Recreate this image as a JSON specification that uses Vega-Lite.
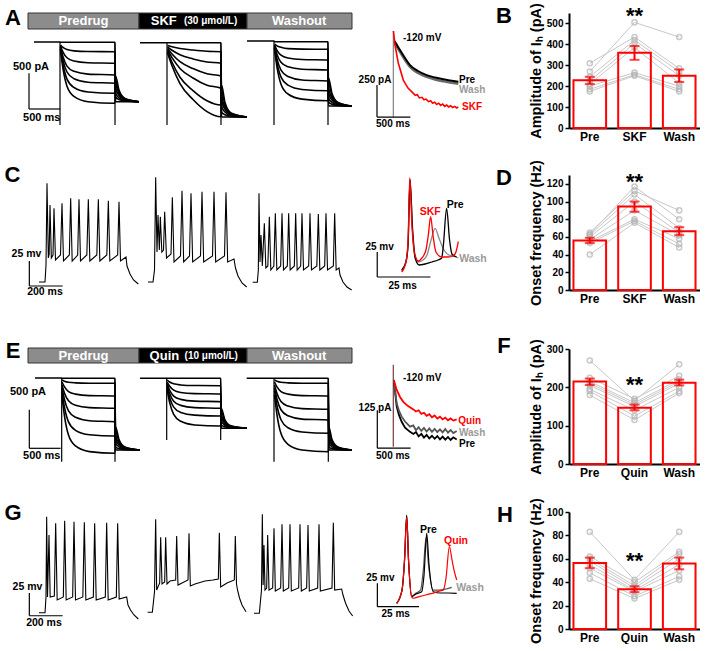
{
"$schema": "https://vega.github.io/schema/vega-lite/v6.json",
"background": "white",
"padding": 0,
"columns": 3,
"spacing": {"row": 0, "column": 0},
"align": "each",
"bounds": "flush",
"resolve": {"scale": {"color": "independent"}},
"config": {
  "view": {"stroke": null},
  "font": "Liberation Sans",
  "axis": {"domainColor": "black", "domainWidth": 2, "tickColor": "black", "tickWidth": 1.5, "labelColor": "black", "titleColor": "black", "labelFontWeight": "bold", "titleFontWeight": "bold", "grid": false, "labelFont": "Liberation Sans", "titleFont": "Liberation Sans"},
  "axisX": {"ticks": false, "labelFontSize": 12, "labelPadding": 3, "labelAngle": 0},
  "axisY": {"tickSize": 4, "labelFontSize": 10, "labelPadding": 2, "titleFontSize": 14.5, "titlePadding": 3}
},
"concat": [
{"width": 360, "height": 13, "data": {"values": []}, "mark": "point"},
{"width": 209, "height": 13, "data": {"values": []}, "mark": "point"},
{"width": 131, "height": 13, "data": {"values": []}, "mark": "point"},
{
 "width": 360, "height": 162,
 "encoding": {
  "x": {"field": "t", "type": "quantitative", "scale": {"domain": [0, 5760], "nice": false, "zero": false}, "axis": null},
  "y": {"field": "v", "type": "quantitative", "scale": {"domain": [-1862, 406], "nice": false, "zero": false}, "axis": null}
 },
 "layer": [
  {"data": {"values": [
    {"phase": "Predrug", "t": 448, "t2": 2224, "v": 406, "v2": 182},
    {"phase": "Drug", "t": 2224, "t2": 3952, "v": 406, "v2": 182},
    {"phase": "Washout", "t": 3952, "t2": 5632, "v": 406, "v2": 182}]},
   "mark": {"type": "rect", "stroke": "#333333", "strokeWidth": 1},
   "encoding": {"x2": {"field": "t2"}, "y2": {"field": "v2"},
    "color": {"field": "phase", "type": "nominal", "scale": {"domain": ["Predrug", "Drug", "Washout"], "range": ["#8c8c8c", "#000000", "#8c8c8c"]}, "legend": null}}},
  {"data": {"values": [{"t": 1336, "v": 294, "label": "Predrug"}, {"t": 2620, "v": 294, "label": "SKF"}, {"t": 4787, "v": 294, "label": "Washout"}]},
   "mark": {"type": "text", "color": "white", "fontSize": 13, "fontWeight": "bold", "baseline": "middle", "align": "center"},
   "encoding": {"text": {"field": "label"}}},
  {"data": {"values": [{"t": 3370, "v": 294, "label": "(30 μmol/L)"}]},
   "mark": {"type": "text", "color": "white", "fontSize": 10, "fontWeight": "bold", "baseline": "middle", "align": "center"},
   "encoding": {"text": {"field": "label"}}},
  {"data": {"values": [
    {"s":"p0","t":544,"v":0},{"s":"p0","t":960,"v":0},{"s":"p0","t":968,"v":-4},{"s":"p0","t":1840,"v":-4},{"s":"p0","t":1848,"v":-836},{"s":"p0","t":2224,"v":-836},
    {"s":"p1","t":968,"v":-42},{"s":"p1","t":1008,"v":-75},{"s":"p1","t":1072,"v":-106},{"s":"p1","t":1184,"v":-124},{"s":"p1","t":1408,"v":-133},{"s":"p1","t":1840,"v":-136},{"s":"p1","t":1848,"v":-770},{"s":"p1","t":1904,"v":-806},{"s":"p1","t":2000,"v":-827},{"s":"p1","t":2224,"v":-836},
    {"s":"p2","t":968,"v":-56},{"s":"p2","t":1008,"v":-141},{"s":"p2","t":1072,"v":-221},{"s":"p2","t":1184,"v":-267},{"s":"p2","t":1408,"v":-291},{"s":"p2","t":1840,"v":-298},{"s":"p2","t":1848,"v":-714},{"s":"p2","t":1904,"v":-781},{"s":"p2","t":2000,"v":-820},{"s":"p2","t":2224,"v":-836},
    {"s":"p3","t":968,"v":-70},{"s":"p3","t":1008,"v":-207},{"s":"p3","t":1072,"v":-337},{"s":"p3","t":1184,"v":-411},{"s":"p3","t":1408,"v":-450},{"s":"p3","t":1840,"v":-462},{"s":"p3","t":1848,"v":-644},{"s":"p3","t":1904,"v":-749},{"s":"p3","t":2000,"v":-811},{"s":"p3","t":2224,"v":-836},
    {"s":"p4","t":968,"v":-84},{"s":"p4","t":1008,"v":-258},{"s":"p4","t":1072,"v":-420},{"s":"p4","t":1184,"v":-514},{"s":"p4","t":1408,"v":-563},{"s":"p4","t":1840,"v":-578},{"s":"p4","t":1848,"v":-588},{"s":"p4","t":1904,"v":-724},{"s":"p4","t":2000,"v":-804},{"s":"p4","t":2224,"v":-836},
    {"s":"p5","t":968,"v":-98},{"s":"p5","t":1008,"v":-315},{"s":"p5","t":1072,"v":-519},{"s":"p5","t":1184,"v":-637},{"s":"p5","t":1408,"v":-700},{"s":"p5","t":1840,"v":-718},{"s":"p5","t":1848,"v":-532},{"s":"p5","t":1904,"v":-699},{"s":"p5","t":2000,"v":-797},{"s":"p5","t":2224,"v":-836},
    {"s":"p6","t":968,"v":-112},{"s":"p6","t":1008,"v":-374},{"s":"p6","t":1072,"v":-619},{"s":"p6","t":1184,"v":-762},{"s":"p6","t":1408,"v":-836},{"s":"p6","t":1840,"v":-858},{"s":"p6","t":1848,"v":-476},{"s":"p6","t":1904,"v":-673},{"s":"p6","t":2000,"v":-790},{"s":"p6","t":2224,"v":-836},
    {"s":"s0","t":2240,"v":-10},{"s":"s0","t":2672,"v":-10},{"s":"s0","t":2680,"v":-10},{"s":"s0","t":3536,"v":-10},{"s":"s0","t":3544,"v":-1050},{"s":"s0","t":3952,"v":-1050},
    {"s":"s1","t":2680,"v":-49},{"s":"s1","t":2752,"v":-66},{"s":"s1","t":2880,"v":-91},{"s":"s1","t":3088,"v":-112},{"s":"s1","t":3312,"v":-129},{"s":"s1","t":3536,"v":-136},{"s":"s1","t":3544,"v":-980},{"s":"s1","t":3600,"v":-1019},{"s":"s1","t":3696,"v":-1041},{"s":"s1","t":3952,"v":-1050},
    {"s":"s2","t":2680,"v":-70},{"s":"s2","t":2752,"v":-116},{"s":"s2","t":2880,"v":-179},{"s":"s2","t":3088,"v":-237},{"s":"s2","t":3312,"v":-280},{"s":"s2","t":3536,"v":-298},{"s":"s2","t":3544,"v":-896},{"s":"s2","t":3600,"v":-981},{"s":"s2","t":3696,"v":-1030},{"s":"s2","t":3952,"v":-1050},
    {"s":"s3","t":2680,"v":-91},{"s":"s3","t":2752,"v":-168},{"s":"s3","t":2880,"v":-276},{"s":"s3","t":3088,"v":-372},{"s":"s3","t":3312,"v":-445},{"s":"s3","t":3536,"v":-476},{"s":"s3","t":3544,"v":-812},{"s":"s3","t":3600,"v":-943},{"s":"s3","t":3696,"v":-1019},{"s":"s3","t":3952,"v":-1050},
    {"s":"s4","t":2680,"v":-112},{"s":"s4","t":2752,"v":-219},{"s":"s4","t":2880,"v":-370},{"s":"s4","t":3088,"v":-504},{"s":"s4","t":3312,"v":-605},{"s":"s4","t":3536,"v":-648},{"s":"s4","t":3544,"v":-742},{"s":"s4","t":3600,"v":-911},{"s":"s4","t":3696,"v":-1010},{"s":"s4","t":3952,"v":-1050},
    {"s":"s5","t":2680,"v":-133},{"s":"s5","t":2752,"v":-283},{"s":"s5","t":2880,"v":-493},{"s":"s5","t":3088,"v":-680},{"s":"s5","t":3312,"v":-822},{"s":"s5","t":3536,"v":-882},{"s":"s5","t":3544,"v":-672},{"s":"s5","t":3600,"v":-880},{"s":"s5","t":3696,"v":-1001},{"s":"s5","t":3952,"v":-1050},
    {"s":"s6","t":2680,"v":-154},{"s":"s6","t":2752,"v":-332},{"s":"s6","t":2880,"v":-582},{"s":"s6","t":3088,"v":-805},{"s":"s6","t":3312,"v":-974},{"s":"s6","t":3536,"v":-1046},{"s":"s6","t":3544,"v":-602},{"s":"s6","t":3600,"v":-848},{"s":"s6","t":3696,"v":-992},{"s":"s6","t":3952,"v":-1050},
    {"s":"w0","t":3952,"v":14},{"s":"w0","t":4384,"v":14},{"s":"w0","t":4392,"v":4},{"s":"w0","t":5248,"v":4},{"s":"w0","t":5256,"v":-896},{"s":"w0","t":5632,"v":-896},
    {"s":"w1","t":4392,"v":-28},{"s":"w1","t":4432,"v":-54},{"s":"w1","t":4496,"v":-74},{"s":"w1","t":4608,"v":-93},{"s":"w1","t":4832,"v":-100},{"s":"w1","t":5248,"v":-102},{"s":"w1","t":5256,"v":-840},{"s":"w1","t":5312,"v":-871},{"s":"w1","t":5408,"v":-889},{"s":"w1","t":5632,"v":-896},
    {"s":"w2","t":4392,"v":-42},{"s":"w2","t":4432,"v":-116},{"s":"w2","t":4496,"v":-185},{"s":"w2","t":4608,"v":-225},{"s":"w2","t":4832,"v":-246},{"s":"w2","t":5248,"v":-252},{"s":"w2","t":5256,"v":-784},{"s":"w2","t":5312,"v":-846},{"s":"w2","t":5408,"v":-881},{"s":"w2","t":5632,"v":-896},
    {"s":"w3","t":4392,"v":-56},{"s":"w3","t":4432,"v":-174},{"s":"w3","t":4496,"v":-284},{"s":"w3","t":4608,"v":-348},{"s":"w3","t":4832,"v":-382},{"s":"w3","t":5248,"v":-392},{"s":"w3","t":5256,"v":-714},{"s":"w3","t":5312,"v":-814},{"s":"w3","t":5408,"v":-872},{"s":"w3","t":5632,"v":-896},
    {"s":"w4","t":4392,"v":-70},{"s":"w4","t":4432,"v":-237},{"s":"w4","t":4496,"v":-394},{"s":"w4","t":4608,"v":-484},{"s":"w4","t":4832,"v":-532},{"s":"w4","t":5248,"v":-546},{"s":"w4","t":5256,"v":-644},{"s":"w4","t":5312,"v":-783},{"s":"w4","t":5408,"v":-863},{"s":"w4","t":5632,"v":-896},
    {"s":"w5","t":4392,"v":-84},{"s":"w5","t":4432,"v":-293},{"s":"w5","t":4496,"v":-491},{"s":"w5","t":4608,"v":-604},{"s":"w5","t":4832,"v":-664},{"s":"w5","t":5248,"v":-682},{"s":"w5","t":5256,"v":-574},{"s":"w5","t":5312,"v":-751},{"s":"w5","t":5408,"v":-854},{"s":"w5","t":5632,"v":-896},
    {"s":"w6","t":4392,"v":-98},{"s":"w6","t":4432,"v":-351},{"s":"w6","t":4496,"v":-590},{"s":"w6","t":4608,"v":-728},{"s":"w6","t":4832,"v":-800},{"s":"w6","t":5248,"v":-822},{"s":"w6","t":5256,"v":-504},{"s":"w6","t":5312,"v":-720},{"s":"w6","t":5408,"v":-845},{"s":"w6","t":5632,"v":-896}]},
   "mark": {"type": "line", "color": "black", "strokeWidth": 1.6, "interpolate": "monotone"},
   "encoding": {"detail": {"field": "s"}, "order": {"value": null}}},
  {"data": {"values": [
    {"t":960,"v":0,"t2":960,"v2":-1162},{"t":1840,"v":0,"t2":1840,"v2":-1162},
    {"t":2672,"v":-10,"t2":2672,"v2":-1162},{"t":3536,"v":-10,"t2":3536,"v2":-1162},
    {"t":4384,"v":14,"t2":4384,"v2":-1162},{"t":5248,"v":4,"t2":5248,"v2":-1162},
    {"t":464,"v":-438,"t2":464,"v2":-938},{"t":464,"v":-938,"t2":964,"v2":-938}]},
   "mark": {"type": "rule", "color": "black", "strokeWidth": 1.2},
   "encoding": {"x2": {"field": "t2"}, "y2": {"field": "v2"}}},
  {"data": {"values": [{"t": 496, "v": -350, "label": "500 pA"}, {"t": 667, "v": -1064, "label": "500 ms"}]},
   "mark": {"type": "text", "fontSize": 11, "fontWeight": "bold", "baseline": "middle", "align": "center", "color": "black"},
   "encoding": {"text": {"field": "label"}}},
  {"data": {"values": [{"t": 208, "v": 238, "label": "A"}]},
   "mark": {"type": "text", "fontSize": 22, "fontWeight": "bold", "baseline": "alphabetic", "align": "center", "color": "black"},
   "encoding": {"text": {"field": "label"}}}
 ]
},
{
 "width": 209, "height": 162,
 "encoding": {
  "x": {"field": "t", "type": "quantitative", "scale": {"domain": [-510, 2625], "nice": false, "zero": false}, "axis": null},
  "y": {"field": "v", "type": "quantitative", "scale": {"domain": [-1123.2, 140.4], "nice": false, "zero": false}, "axis": null}
 },
 "layer": [
  {"data": {"values": [{"t": -10, "v": 0, "t2": -10, "v2": -671}]},
   "mark": {"type": "rule", "color": "#808080", "strokeWidth": 1.2},
   "encoding": {"x2": {"field": "t2"}, "y2": {"field": "v2"}}},
  {"data": {"values": [
    {"t":8,"v":-85},{"t":45,"v":-124},{"t":90,"v":-163},{"t":165,"v":-227},{"t":240,"v":-280},{"t":360,"v":-328},{"t":490,"v":-358},{"t":615,"v":-378},{"t":740,"v":-392},{"t":840,"v":-402},{"t":965,"v":-411}]},
   "mark": {"type": "line", "color": "#6a6a6a", "strokeWidth": 2.5, "interpolate": "monotone"}},
  {"data": {"values": [
    {"t":8,"v":-78},{"t":45,"v":-110},{"t":90,"v":-149},{"t":165,"v":-211},{"t":240,"v":-266},{"t":360,"v":-312},{"t":490,"v":-344},{"t":615,"v":-363},{"t":740,"v":-377},{"t":840,"v":-386},{"t":965,"v":-396}]},
   "mark": {"type": "line", "color": "black", "strokeWidth": 2, "interpolate": "monotone"}},
  {"data": {"values": [
    {"t":-8,"v":0},{"t":15,"v":-110},{"t":65,"v":-252},{"t":140,"v":-383},{"t":210,"v":-445},{"t":290,"v":-486},{"t":320,"v":-502},{"t":350,"v":-497},{"t":380,"v":-522},{"t":420,"v":-517},{"t":450,"v":-536},{"t":480,"v":-531},{"t":520,"v":-551},{"t":550,"v":-544},{"t":580,"v":-563},{"t":610,"v":-555},{"t":640,"v":-573},{"t":670,"v":-563},{"t":700,"v":-580},{"t":730,"v":-570},{"t":760,"v":-588},{"t":790,"v":-578},{"t":820,"v":-592},{"t":850,"v":-583},{"t":880,"v":-597},{"t":910,"v":-588},{"t":940,"v":-600},{"t":965,"v":-592}]},
   "mark": {"type": "line", "color": "#ff0000", "strokeWidth": 1.6}},
  {"data": {"values": [{"t": -255, "v": -421, "t2": -255, "v2": -671}, {"t": -255, "v": -671, "t2": 245, "v2": -671}]},
   "mark": {"type": "rule", "color": "black", "strokeWidth": 1.2},
   "encoding": {"x2": {"field": "t2"}, "y2": {"field": "v2"}}},
  {"data": {"values": [{"t": -285, "v": -382, "label": "250 pA"}, {"t": -15, "v": -729, "label": "500 ms"}]},
   "mark": {"type": "text", "fontSize": 10, "fontWeight": "bold", "baseline": "middle", "align": "center", "color": "black"},
   "encoding": {"text": {"field": "label"}}},
  {"data": {"values": [{"t": 135, "v": -57, "label": "-120 mV", "c": "mV"}, {"t": 975, "v": -386, "label": "Pre", "c": "Pre"}, {"t": 975, "v": -464, "label": "Wash", "c": "Wash"}, {"t": 1020, "v": -593, "label": "SKF", "c": "Drug"}]},
   "mark": {"type": "text", "fontSize": 10, "fontWeight": "bold", "baseline": "middle", "align": "left"},
   "encoding": {"text": {"field": "label"}, "color": {"field": "c", "type": "nominal", "scale": {"domain": ["mV", "Pre", "Wash", "Drug"], "range": ["#000000", "#000000", "#9a9a9a", "#ff0000"]}, "legend": null}}},
  {"data": {"values": [{"t": 1650, "v": 62, "label": "B"}]},
   "mark": {"type": "text", "fontSize": 22, "fontWeight": "bold", "baseline": "alphabetic", "align": "center", "color": "black"},
   "encoding": {"text": {"field": "label"}}}
 ]
},
{
 "width": 131, "height": 115,
 "encoding": {
  "x": {"field": "cond", "type": "nominal", "scale": {"domain": ["Pre", "SKF", "Wash"], "paddingInner": 0.27, "paddingOuter": 0.1}, "axis": {"title": null}},
  "y": {"field": "y", "type": "quantitative", "scale": {"domain": [0, 550], "nice": false}, "axis": {"title": "Amplitude of Iₕ (pA)", "values": [0, 100, 200, 300, 400, 500]}}
 },
 "layer": [
  {"data": {"values": [
    {"id":1,"cond":"Pre","y":310},{"id":1,"cond":"SKF","y":435},{"id":1,"cond":"Wash","y":285},
    {"id":2,"cond":"Pre","y":270},{"id":2,"cond":"SKF","y":505},{"id":2,"cond":"Wash","y":435},
    {"id":3,"cond":"Pre","y":245},{"id":3,"cond":"SKF","y":420},{"id":3,"cond":"Wash","y":270},
    {"id":4,"cond":"Pre","y":225},{"id":4,"cond":"SKF","y":405},{"id":4,"cond":"Wash","y":250},
    {"id":5,"cond":"Pre","y":210},{"id":5,"cond":"SKF","y":385},{"id":5,"cond":"Wash","y":215},
    {"id":6,"cond":"Pre","y":200},{"id":6,"cond":"SKF","y":265},{"id":6,"cond":"Wash","y":200},
    {"id":7,"cond":"Pre","y":185},{"id":7,"cond":"SKF","y":255},{"id":7,"cond":"Wash","y":185},
    {"id":8,"cond":"Pre","y":175},{"id":8,"cond":"SKF","y":250},{"id":8,"cond":"Wash","y":175}]},
   "layer": [
    {"mark": {"type": "line", "color": "#c8c8c8", "strokeWidth": 1}, "encoding": {"detail": {"field": "id"}}},
    {"mark": {"type": "point", "shape": "circle", "filled": false, "color": "#b4b4b4", "size": 26, "strokeWidth": 1.5}}
   ]},
  {"data": {"values": [{"cond":"Pre","y":228},{"cond":"SKF","y":360},{"cond":"Wash","y":250}]},
   "mark": {"type": "bar", "filled": false, "color": "#ff0000", "strokeWidth": 2}},
  {"data": {"values": [{"cond":"Pre","y":210,"hi":245},{"cond":"SKF","y":326,"hi":392},{"cond":"Wash","y":220,"hi":280}]},
   "mark": {"type": "rule", "color": "#ff0000", "strokeWidth": 2},
   "encoding": {"y2": {"field": "hi"}}},
  {"data": {"values": [{"cond":"Pre","y":210},{"cond":"Pre","y":245},{"cond":"SKF","y":326},{"cond":"SKF","y":392},{"cond":"Wash","y":220},{"cond":"Wash","y":280}]},
   "mark": {"type": "tick", "color": "#ff0000", "thickness": 2, "size": 10}},
  {"data": {"values": [{"cond": "SKF", "y": 501}]},
   "mark": {"type": "text", "text": "**", "fontSize": 22, "fontWeight": "bold", "baseline": "alphabetic", "align": "center", "color": "black"}}
 ]
},
{
 "width": 360, "height": 174,
 "encoding": {
  "x": {"field": "t", "type": "quantitative", "scale": {"domain": [0, 2160], "nice": false, "zero": false}, "axis": null},
  "y": {"field": "v", "type": "quantitative", "scale": {"domain": [-137, 37], "nice": false, "zero": false}, "axis": null}
 },
 "layer": [
  {"data": {"values": [
    {"s":"p","t":234,"v":-70},{"s":"p","t":270,"v":-70},{"s":"p","t":276,"v":-53},{"s":"p","t":282,"v":28.7},{"s":"p","t":290,"v":-46},{"s":"p","t":295,"v":-42},{"s":"p","t":300,"v":7},{"s":"p","t":308,"v":-46},{"s":"p","t":318,"v":-43},{"s":"p","t":324,"v":3.7},{"s":"p","t":333,"v":-48},{"s":"p","t":363,"v":-43},{"s":"p","t":372,"v":8.7},{"s":"p","t":381,"v":-49},{"s":"p","t":416,"v":-43},{"s":"p","t":424,"v":13.7},{"s":"p","t":433,"v":-49},{"s":"p","t":466,"v":-43},{"s":"p","t":474,"v":12.7},{"s":"p","t":483,"v":-49},{"s":"p","t":521,"v":-43},{"s":"p","t":530,"v":12.7},{"s":"p","t":539,"v":-49},{"s":"p","t":581,"v":-43},{"s":"p","t":590,"v":12.7},{"s":"p","t":599,"v":-49},{"s":"p","t":641,"v":-43},{"s":"p","t":650,"v":11.3},{"s":"p","t":659,"v":-49},{"s":"p","t":706,"v":-43},{"s":"p","t":714,"v":10.3},{"s":"p","t":723,"v":-49},{"s":"p","t":756,"v":-45},{"s":"p","t":762,"v":-54},{"s":"p","t":780,"v":-62},{"s":"p","t":801,"v":-68},{"s":"p","t":830,"v":-72},
    {"s":"s","t":888,"v":-70},{"s":"s","t":918,"v":-70},{"s":"s","t":927,"v":-58},{"s":"s","t":934,"v":34.7},{"s":"s","t":942,"v":-40},{"s":"s","t":948,"v":-3},{"s":"s","t":956,"v":-38},{"s":"s","t":962,"v":-4.7},{"s":"s","t":971,"v":-40},{"s":"s","t":981,"v":-38},{"s":"s","t":988,"v":0.3},{"s":"s","t":999,"v":-46},{"s":"s","t":1026,"v":-42},{"s":"s","t":1034,"v":14.7},{"s":"s","t":1044,"v":-50},{"s":"s","t":1083,"v":-44},{"s":"s","t":1092,"v":21.3},{"s":"s","t":1102,"v":-50},{"s":"s","t":1137,"v":-44},{"s":"s","t":1146,"v":18.7},{"s":"s","t":1156,"v":-50},{"s":"s","t":1203,"v":-44},{"s":"s","t":1212,"v":20.3},{"s":"s","t":1222,"v":-50},{"s":"s","t":1275,"v":-44},{"s":"s","t":1284,"v":20.3},{"s":"s","t":1294,"v":-50},{"s":"s","t":1347,"v":-44},{"s":"s","t":1356,"v":19.7},{"s":"s","t":1366,"v":-50},{"s":"s","t":1404,"v":-47},{"s":"s","t":1413,"v":-56},{"s":"s","t":1428,"v":-64},{"s":"s","t":1452,"v":-71},{"s":"s","t":1480,"v":-75},
    {"s":"w","t":1516,"v":-70.3},{"s":"w","t":1544,"v":-70.3},{"s":"w","t":1550,"v":-58},{"s":"w","t":1554,"v":18.7},{"s":"w","t":1560,"v":-50},{"s":"w","t":1566,"v":-23},{"s":"w","t":1574,"v":-54},{"s":"w","t":1586,"v":-11.3},{"s":"w","t":1595,"v":-56},{"s":"w","t":1607,"v":-54},{"s":"w","t":1616,"v":-4.7},{"s":"w","t":1625,"v":-58},{"s":"w","t":1643,"v":-54},{"s":"w","t":1652,"v":-1.3},{"s":"w","t":1661,"v":-58},{"s":"w","t":1684,"v":-54},{"s":"w","t":1692,"v":-1.3},{"s":"w","t":1701,"v":-58},{"s":"w","t":1724,"v":-54},{"s":"w","t":1732,"v":-1.3},{"s":"w","t":1741,"v":-58},{"s":"w","t":1766,"v":-54},{"s":"w","t":1774,"v":-1.3},{"s":"w","t":1783,"v":-58},{"s":"w","t":1804,"v":-54},{"s":"w","t":1812,"v":-1.3},{"s":"w","t":1821,"v":-58},{"s":"w","t":1852,"v":-54},{"s":"w","t":1860,"v":-1.3},{"s":"w","t":1869,"v":-58},{"s":"w","t":1901,"v":-54},{"s":"w","t":1910,"v":-2},{"s":"w","t":1919,"v":-58},{"s":"w","t":1948,"v":-54},{"s":"w","t":1956,"v":-1.3},{"s":"w","t":1965,"v":-58},{"s":"w","t":2000,"v":-54},{"s":"w","t":2008,"v":-1.3},{"s":"w","t":2017,"v":-58},{"s":"w","t":2034,"v":-56},{"s":"w","t":2040,"v":-63},{"s":"w","t":2058,"v":-70},{"s":"w","t":2082,"v":-75},{"s":"w","t":2110,"v":-78}]},
   "mark": {"type": "line", "color": "black", "strokeWidth": 1.1},
   "encoding": {"detail": {"field": "s"}, "order": {"value": null}}},
  {"data": {"values": [{"t": 176, "v": -49, "t2": 176, "v2": -74}, {"t": 176, "v": -74, "t2": 376, "v2": -74}]},
   "mark": {"type": "rule", "color": "black", "strokeWidth": 1.2},
   "encoding": {"x2": {"field": "t2"}, "y2": {"field": "v2"}}},
  {"data": {"values": [{"t": 159, "v": -41.5, "label": "25 mv"}, {"t": 270, "v": -80, "label": "200 ms"}]},
   "mark": {"type": "text", "fontSize": 10.5, "fontWeight": "bold", "baseline": "middle", "align": "center", "color": "black"},
   "encoding": {"text": {"field": "label"}}},
  {"data": {"values": [{"t": 75, "v": 30, "label": "C"}]},
   "mark": {"type": "text", "fontSize": 22, "fontWeight": "bold", "baseline": "alphabetic", "align": "center", "color": "black"},
   "encoding": {"text": {"field": "label"}}}
 ]
},
{
 "width": 209, "height": 174,
 "encoding": {
  "x": {"field": "t", "type": "quantitative", "scale": {"domain": [-18.8, 79.43], "nice": false, "zero": false}, "axis": null},
  "y": {"field": "v", "type": "quantitative", "scale": {"domain": [-149, 25], "nice": false, "zero": false}, "axis": null}
 },
 "layer": [
  {"data": {"values": [
    {"t":0.8,"v":-71},{"t":2.8,"v":-62},{"t":3.8,"v":-42},{"t":4.7,"v":20},{"t":5.9,"v":-28},{"t":7.1,"v":-55},{"t":8.6,"v":-62},{"t":10.8,"v":-60},{"t":12.7,"v":-55},{"t":14.6,"v":-40},{"t":16.5,"v":-28.3},{"t":18.3,"v":-38},{"t":20.7,"v":-50},{"t":23,"v":-55},{"t":25.1,"v":-56},{"t":27.4,"v":-58}]},
   "mark": {"type": "line", "color": "#8a8a8a", "strokeWidth": 1.3, "interpolate": "monotone"}},
  {"data": {"values": [
    {"t":0.8,"v":-70},{"t":2.8,"v":-62},{"t":3.8,"v":-45},{"t":4.7,"v":20.7},{"t":5.9,"v":-30},{"t":7.1,"v":-58},{"t":9.1,"v":-65},{"t":11.8,"v":-64},{"t":15,"v":-62},{"t":17.9,"v":-60},{"t":19.6,"v":-58},{"t":20.4,"v":-45},{"t":21.9,"v":-8.3},{"t":23.3,"v":-40},{"t":24.4,"v":-54},{"t":26.6,"v":-57}]},
   "mark": {"type": "line", "color": "black", "strokeWidth": 1.3, "interpolate": "monotone"}},
  {"data": {"values": [
    {"t":0.8,"v":-72},{"t":2.8,"v":-62},{"t":3.8,"v":-40},{"t":4.6,"v":22},{"t":5.6,"v":-25},{"t":6.8,"v":-53},{"t":8.6,"v":-61},{"t":10.3,"v":-58},{"t":12.2,"v":-50},{"t":13.3,"v":-35},{"t":14.4,"v":-16.7},{"t":15.5,"v":-35},{"t":16.9,"v":-52},{"t":19.6,"v":-57},{"t":22.6,"v":-57},{"t":24.9,"v":-56},{"t":26.3,"v":-52},{"t":27.4,"v":-41.7}]},
   "mark": {"type": "line", "color": "#ff0000", "strokeWidth": 1.3, "interpolate": "monotone"}},
  {"data": {"values": [{"t": -10.7, "v": -52, "t2": -10.7, "v2": -77}, {"t": -10.7, "v": -77, "t2": 14.3, "v2": -77}]},
   "mark": {"type": "rule", "color": "black", "strokeWidth": 1.2},
   "encoding": {"x2": {"field": "t2"}, "y2": {"field": "v2"}}},
  {"data": {"values": [{"t": -9.6, "v": -47, "label": "25 mv"}, {"t": 1.2, "v": -86, "label": "25 ms"}]},
   "mark": {"type": "text", "fontSize": 10, "fontWeight": "bold", "baseline": "middle", "align": "center", "color": "black"},
   "encoding": {"text": {"field": "label"}}},
  {"data": {"values": [{"t": 14.2, "v": -11.7, "label": "SKF", "c": "Drug"}, {"t": 25.9, "v": -5, "label": "Pre", "c": "Pre"}, {"t": 34.3, "v": -59.3, "label": "Wash", "c": "Wash"}]},
   "mark": {"type": "text", "fontSize": 10.5, "fontWeight": "bold", "baseline": "middle", "align": "center"},
   "encoding": {"text": {"field": "label"}, "color": {"field": "c", "type": "nominal", "scale": {"domain": ["Pre", "Wash", "Drug"], "range": ["#000000", "#9a9a9a", "#ff0000"]}, "legend": null}}},
  {"data": {"values": [{"t": 48.9, "v": 15, "label": "D"}]},
   "mark": {"type": "text", "fontSize": 22, "fontWeight": "bold", "baseline": "alphabetic", "align": "center", "color": "black"},
   "encoding": {"text": {"field": "label"}}}
 ]
},
{
 "width": 131, "height": 115,
 "encoding": {
  "x": {"field": "cond", "type": "nominal", "scale": {"domain": ["Pre", "SKF", "Wash"], "paddingInner": 0.27, "paddingOuter": 0.1}, "axis": {"title": null}},
  "y": {"field": "y", "type": "quantitative", "scale": {"domain": [0, 130], "nice": false}, "axis": {"title": "Onset frequency (Hz)", "values": [0, 20, 40, 60, 80, 100, 120]}}
 },
 "layer": [
  {"data": {"values": [
    {"id":1,"cond":"Pre","y":65},{"id":1,"cond":"SKF","y":112},{"id":1,"cond":"Wash","y":90},
    {"id":2,"cond":"Pre","y":63},{"id":2,"cond":"SKF","y":117},{"id":2,"cond":"Wash","y":80},
    {"id":3,"cond":"Pre","y":62},{"id":3,"cond":"SKF","y":108},{"id":3,"cond":"Wash","y":70},
    {"id":4,"cond":"Pre","y":60},{"id":4,"cond":"SKF","y":100},{"id":4,"cond":"Wash","y":65},
    {"id":5,"cond":"Pre","y":57},{"id":5,"cond":"SKF","y":90},{"id":5,"cond":"Wash","y":62},
    {"id":6,"cond":"Pre","y":55},{"id":6,"cond":"SKF","y":80},{"id":6,"cond":"Wash","y":58},
    {"id":7,"cond":"Pre","y":53},{"id":7,"cond":"SKF","y":78},{"id":7,"cond":"Wash","y":52},
    {"id":8,"cond":"Pre","y":40},{"id":8,"cond":"SKF","y":76},{"id":8,"cond":"Wash","y":48}]},
   "layer": [
    {"mark": {"type": "line", "color": "#c8c8c8", "strokeWidth": 1}, "encoding": {"detail": {"field": "id"}}},
    {"mark": {"type": "point", "shape": "circle", "filled": false, "color": "#b4b4b4", "size": 26, "strokeWidth": 1.5}}
   ]},
  {"data": {"values": [{"cond":"Pre","y":56},{"cond":"SKF","y":94.5},{"cond":"Wash","y":66.5}]},
   "mark": {"type": "bar", "filled": false, "color": "#ff0000", "strokeWidth": 2}},
  {"data": {"values": [{"cond":"Pre","y":53,"hi":59},{"cond":"SKF","y":88.5,"hi":100},{"cond":"Wash","y":62,"hi":71}]},
   "mark": {"type": "rule", "color": "#ff0000", "strokeWidth": 2},
   "encoding": {"y2": {"field": "hi"}}},
  {"data": {"values": [{"cond":"Pre","y":53},{"cond":"Pre","y":59},{"cond":"SKF","y":88.5},{"cond":"SKF","y":100},{"cond":"Wash","y":62},{"cond":"Wash","y":71}]},
   "mark": {"type": "tick", "color": "#ff0000", "thickness": 2, "size": 10}},
  {"data": {"values": [{"cond": "SKF", "y": 114}]},
   "mark": {"type": "text", "text": "**", "fontSize": 22, "fontWeight": "bold", "baseline": "alphabetic", "align": "center", "color": "black"}}
 ]
},
{
 "width": 360, "height": 163,
 "encoding": {
  "x": {"field": "t", "type": "quantitative", "scale": {"domain": [0, 5760], "nice": false, "zero": false}, "axis": null},
  "y": {"field": "v", "type": "quantitative", "scale": {"domain": [-1742, 377], "nice": false, "zero": false}, "axis": null}
 },
 "layer": [
  {"data": {"values": [
    {"phase": "Predrug", "t": 448, "t2": 2224, "v": 390, "v2": 195},
    {"phase": "Drug", "t": 2224, "t2": 3952, "v": 390, "v2": 195},
    {"phase": "Washout", "t": 3952, "t2": 5632, "v": 390, "v2": 195}]},
   "mark": {"type": "rect", "stroke": "#333333", "strokeWidth": 1},
   "encoding": {"x2": {"field": "t2"}, "y2": {"field": "v2"},
    "color": {"field": "phase", "type": "nominal", "scale": {"domain": ["Predrug", "Drug", "Washout"], "range": ["#8c8c8c", "#000000", "#8c8c8c"]}, "legend": null}}},
  {"data": {"values": [{"t": 1336, "v": 292, "label": "Predrug"}, {"t": 2630, "v": 292, "label": "Quin"}, {"t": 4787, "v": 292, "label": "Washout"}]},
   "mark": {"type": "text", "color": "white", "fontSize": 13, "fontWeight": "bold", "baseline": "middle", "align": "center"},
   "encoding": {"text": {"field": "label"}}},
  {"data": {"values": [{"t": 3380, "v": 292, "label": "(10 μmol/L)"}]},
   "mark": {"type": "text", "color": "white", "fontSize": 10, "fontWeight": "bold", "baseline": "middle", "align": "center"},
   "encoding": {"text": {"field": "label"}}},
  {"data": {"values": [
    {"s":"p0","t":560,"v":0},{"s":"p0","t":987,"v":0},{"s":"p0","t":992,"v":-4},{"s":"p0","t":1840,"v":-4},{"s":"p0","t":1848,"v":-936},{"s":"p0","t":2240,"v":-936},
    {"s":"p1","t":992,"v":-26},{"s":"p1","t":1032,"v":-41},{"s":"p1","t":1096,"v":-55},{"s":"p1","t":1208,"v":-63},{"s":"p1","t":1432,"v":-68},{"s":"p1","t":1840,"v":-69},{"s":"p1","t":1848,"v":-897},{"s":"p1","t":1904,"v":-918},{"s":"p1","t":2000,"v":-931},{"s":"p1","t":2240,"v":-936},
    {"s":"p2","t":992,"v":-52},{"s":"p2","t":1032,"v":-116},{"s":"p2","t":1096,"v":-176},{"s":"p2","t":1208,"v":-210},{"s":"p2","t":1432,"v":-229},{"s":"p2","t":1840,"v":-234},{"s":"p2","t":1848,"v":-845},{"s":"p2","t":1904,"v":-895},{"s":"p2","t":2000,"v":-924},{"s":"p2","t":2240,"v":-936},
    {"s":"p3","t":992,"v":-91},{"s":"p3","t":1032,"v":-197},{"s":"p3","t":1096,"v":-297},{"s":"p3","t":1208,"v":-355},{"s":"p3","t":1432,"v":-385},{"s":"p3","t":1840,"v":-394},{"s":"p3","t":1848,"v":-793},{"s":"p3","t":1904,"v":-872},{"s":"p3","t":2000,"v":-917},{"s":"p3","t":2240,"v":-936},
    {"s":"p4","t":992,"v":-130},{"s":"p4","t":1032,"v":-283},{"s":"p4","t":1096,"v":-428},{"s":"p4","t":1208,"v":-511},{"s":"p4","t":1432,"v":-555},{"s":"p4","t":1840,"v":-568},{"s":"p4","t":1848,"v":-741},{"s":"p4","t":1904,"v":-848},{"s":"p4","t":2000,"v":-911},{"s":"p4","t":2240,"v":-936},
    {"s":"p5","t":992,"v":-182},{"s":"p5","t":1032,"v":-382},{"s":"p5","t":1096,"v":-571},{"s":"p5","t":1208,"v":-680},{"s":"p5","t":1432,"v":-737},{"s":"p5","t":1840,"v":-754},{"s":"p5","t":1848,"v":-689},{"s":"p5","t":1904,"v":-825},{"s":"p5","t":2000,"v":-904},{"s":"p5","t":2240,"v":-936},
    {"s":"p6","t":992,"v":-234},{"s":"p6","t":1032,"v":-495},{"s":"p6","t":1096,"v":-741},{"s":"p6","t":1208,"v":-883},{"s":"p6","t":1432,"v":-957},{"s":"p6","t":1840,"v":-979},{"s":"p6","t":1848,"v":-633},{"s":"p6","t":1904,"v":-800},{"s":"p6","t":2000,"v":-897},{"s":"p6","t":2240,"v":-936},
    {"s":"s0","t":2240,"v":-4},{"s":"s0","t":2667,"v":-4},{"s":"s0","t":2675,"v":-4},{"s":"s0","t":3531,"v":-4},{"s":"s0","t":3539,"v":-654},{"s":"s0","t":3952,"v":-654},
    {"s":"s1","t":2675,"v":-26},{"s":"s1","t":2715,"v":-52},{"s":"s1","t":2779,"v":-76},{"s":"s1","t":2891,"v":-90},{"s":"s1","t":3115,"v":-98},{"s":"s1","t":3531,"v":-100},{"s":"s1","t":3539,"v":-611},{"s":"s1","t":3595,"v":-634},{"s":"s1","t":3691,"v":-648},{"s":"s1","t":3952,"v":-654},
    {"s":"s2","t":2675,"v":-52},{"s":"s2","t":2715,"v":-107},{"s":"s2","t":2779,"v":-158},{"s":"s2","t":2891,"v":-188},{"s":"s2","t":3115,"v":-203},{"s":"s2","t":3531,"v":-208},{"s":"s2","t":3539,"v":-559},{"s":"s2","t":3595,"v":-611},{"s":"s2","t":3691,"v":-642},{"s":"s2","t":3952,"v":-654},
    {"s":"s3","t":2675,"v":-78},{"s":"s3","t":2715,"v":-159},{"s":"s3","t":2779,"v":-235},{"s":"s3","t":2891,"v":-278},{"s":"s3","t":3115,"v":-301},{"s":"s3","t":3531,"v":-308},{"s":"s3","t":3539,"v":-507},{"s":"s3","t":3595,"v":-588},{"s":"s3","t":3691,"v":-635},{"s":"s3","t":3952,"v":-654},
    {"s":"s4","t":2675,"v":-104},{"s":"s4","t":2715,"v":-205},{"s":"s4","t":2779,"v":-301},{"s":"s4","t":2891,"v":-356},{"s":"s4","t":3115,"v":-385},{"s":"s4","t":3531,"v":-394},{"s":"s4","t":3539,"v":-468},{"s":"s4","t":3595,"v":-571},{"s":"s4","t":3691,"v":-630},{"s":"s4","t":3952,"v":-654},
    {"s":"s5","t":2675,"v":-130},{"s":"s5","t":2715,"v":-257},{"s":"s5","t":2779,"v":-378},{"s":"s5","t":2891,"v":-447},{"s":"s5","t":3115,"v":-483},{"s":"s5","t":3531,"v":-494},{"s":"s5","t":3539,"v":-429},{"s":"s5","t":3595,"v":-553},{"s":"s5","t":3691,"v":-625},{"s":"s5","t":3952,"v":-654},
    {"s":"s6","t":2675,"v":-156},{"s":"s6","t":2715,"v":-320},{"s":"s6","t":2779,"v":-474},{"s":"s6","t":2891,"v":-563},{"s":"s6","t":3115,"v":-610},{"s":"s6","t":3531,"v":-624},{"s":"s6","t":3539,"v":-390},{"s":"s6","t":3595,"v":-536},{"s":"s6","t":3691,"v":-620},{"s":"s6","t":3952,"v":-654},
    {"s":"w0","t":3947,"v":-4},{"s":"w0","t":4384,"v":-4},{"s":"w0","t":4392,"v":-4},{"s":"w0","t":5253,"v":-4},{"s":"w0","t":5261,"v":-936},{"s":"w0","t":5632,"v":-936},
    {"s":"w1","t":4392,"v":-26},{"s":"w1","t":4432,"v":-41},{"s":"w1","t":4496,"v":-55},{"s":"w1","t":4608,"v":-63},{"s":"w1","t":4832,"v":-68},{"s":"w1","t":5253,"v":-69},{"s":"w1","t":5261,"v":-897},{"s":"w1","t":5312,"v":-918},{"s":"w1","t":5408,"v":-931},{"s":"w1","t":5632,"v":-936},
    {"s":"w2","t":4392,"v":-52},{"s":"w2","t":4432,"v":-116},{"s":"w2","t":4496,"v":-176},{"s":"w2","t":4608,"v":-210},{"s":"w2","t":4832,"v":-229},{"s":"w2","t":5253,"v":-234},{"s":"w2","t":5261,"v":-845},{"s":"w2","t":5312,"v":-895},{"s":"w2","t":5408,"v":-924},{"s":"w2","t":5632,"v":-936},
    {"s":"w3","t":4392,"v":-91},{"s":"w3","t":4432,"v":-202},{"s":"w3","t":4496,"v":-306},{"s":"w3","t":4608,"v":-365},{"s":"w3","t":4832,"v":-398},{"s":"w3","t":5253,"v":-407},{"s":"w3","t":5261,"v":-793},{"s":"w3","t":5312,"v":-872},{"s":"w3","t":5408,"v":-917},{"s":"w3","t":5632,"v":-936},
    {"s":"w4","t":4392,"v":-130},{"s":"w4","t":4432,"v":-276},{"s":"w4","t":4496,"v":-413},{"s":"w4","t":4608,"v":-492},{"s":"w4","t":4832,"v":-534},{"s":"w4","t":5253,"v":-546},{"s":"w4","t":5261,"v":-741},{"s":"w4","t":5312,"v":-848},{"s":"w4","t":5408,"v":-911},{"s":"w4","t":5632,"v":-936},
    {"s":"w5","t":4392,"v":-169},{"s":"w5","t":4432,"v":-361},{"s":"w5","t":4496,"v":-543},{"s":"w5","t":4608,"v":-647},{"s":"w5","t":4832,"v":-702},{"s":"w5","t":5253,"v":-719},{"s":"w5","t":5261,"v":-689},{"s":"w5","t":5312,"v":-825},{"s":"w5","t":5408,"v":-904},{"s":"w5","t":5632,"v":-936},
    {"s":"w6","t":4392,"v":-221},{"s":"w6","t":4432,"v":-478},{"s":"w6","t":4496,"v":-723},{"s":"w6","t":4608,"v":-862},{"s":"w6","t":4832,"v":-936},{"s":"w6","t":5253,"v":-958},{"s":"w6","t":5261,"v":-637},{"s":"w6","t":5312,"v":-801},{"s":"w6","t":5408,"v":-897},{"s":"w6","t":5632,"v":-936}]},
   "mark": {"type": "line", "color": "black", "strokeWidth": 1.6, "interpolate": "monotone"},
   "encoding": {"detail": {"field": "s"}, "order": {"value": null}}},
  {"data": {"values": [
    {"t":987,"v":0,"t2":987,"v2":-1088},{"t":1840,"v":-4,"t2":1840,"v2":-1088},
    {"t":2667,"v":-4,"t2":2667,"v2":-806},{"t":3531,"v":-4,"t2":3531,"v2":-806},
    {"t":4384,"v":-4,"t2":4384,"v2":-1088},{"t":5253,"v":-4,"t2":5253,"v2":-1088},
    {"t":469,"v":-414,"t2":469,"v2":-914},{"t":469,"v":-914,"t2":969,"v2":-914}]},
   "mark": {"type": "rule", "color": "black", "strokeWidth": 1.2},
   "encoding": {"x2": {"field": "t2"}, "y2": {"field": "v2"}}},
  {"data": {"values": [{"t": 448, "v": -186, "label": "500 pA"}, {"t": 667, "v": -1014, "label": "500 ms"}]},
   "mark": {"type": "text", "fontSize": 11, "fontWeight": "bold", "baseline": "middle", "align": "center", "color": "black"},
   "encoding": {"text": {"field": "label"}}},
  {"data": {"values": [{"t": 208, "v": 260, "label": "E"}]},
   "mark": {"type": "text", "fontSize": 22, "fontWeight": "bold", "baseline": "alphabetic", "align": "center", "color": "black"},
   "encoding": {"text": {"field": "label"}}}
 ]
},
{
 "width": 209, "height": 163,
 "encoding": {
  "x": {"field": "t", "type": "quantitative", "scale": {"domain": [-499.5, 2635.5], "nice": false, "zero": false}, "axis": null},
  "y": {"field": "v", "type": "quantitative", "scale": {"domain": [-435.6, 102.3], "nice": false, "zero": false}, "axis": null}
 },
 "layer": [
  {"data": {"values": [{"t": 0, "v": 50, "t2": 0, "v2": -220}]},
   "mark": {"type": "rule", "color": "#7b3b3b", "strokeWidth": 1.2},
   "encoding": {"x2": {"field": "t2"}, "y2": {"field": "v2"}}},
  {"data": {"values": [
    {"t":8,"v":0},{"t":51,"v":-88},{"t":86,"v":-116},{"t":126,"v":-138},{"t":176,"v":-157},{"t":251,"v":-171},{"t":300,"v":-178},{"t":340,"v":-172},{"t":380,"v":-186},{"t":420,"v":-178},{"t":460,"v":-190},{"t":500,"v":-181},{"t":540,"v":-193},{"t":580,"v":-184},{"t":620,"v":-194},{"t":660,"v":-185},{"t":700,"v":-196},{"t":740,"v":-187},{"t":780,"v":-197},{"t":820,"v":-188},{"t":860,"v":-198},{"t":900,"v":-189},{"t":951,"v":-196}]},
   "mark": {"type": "line", "color": "black", "strokeWidth": 1.8}},
  {"data": {"values": [
    {"t":8,"v":0},{"t":51,"v":-77},{"t":86,"v":-102},{"t":126,"v":-121},{"t":176,"v":-137},{"t":251,"v":-154},{"t":300,"v":-150},{"t":340,"v":-166},{"t":380,"v":-156},{"t":420,"v":-168},{"t":460,"v":-158},{"t":500,"v":-170},{"t":540,"v":-160},{"t":580,"v":-171},{"t":620,"v":-161},{"t":660,"v":-172},{"t":700,"v":-163},{"t":740,"v":-173},{"t":780,"v":-162},{"t":820,"v":-174},{"t":860,"v":-165},{"t":900,"v":-175},{"t":951,"v":-168}]},
   "mark": {"type": "line", "color": "#555555", "strokeWidth": 1.8}},
  {"data": {"values": [
    {"t":8,"v":0},{"t":51,"v":-33},{"t":101,"v":-56},{"t":150,"v":-72},{"t":221,"v":-86},{"t":300,"v":-97},{"t":340,"v":-104},{"t":380,"v":-100},{"t":420,"v":-112},{"t":460,"v":-108},{"t":500,"v":-118},{"t":540,"v":-113},{"t":580,"v":-123},{"t":620,"v":-117},{"t":660,"v":-127},{"t":700,"v":-121},{"t":740,"v":-130},{"t":780,"v":-124},{"t":820,"v":-133},{"t":860,"v":-127},{"t":900,"v":-134},{"t":951,"v":-130}]},
   "mark": {"type": "line", "color": "#ff0000", "strokeWidth": 1.8}},
  {"data": {"values": [{"t": -240, "v": -100, "t2": -240, "v2": -225}, {"t": -240, "v": -225, "t2": 260, "v2": -225}]},
   "mark": {"type": "rule", "color": "black", "strokeWidth": 1.2},
   "encoding": {"x2": {"field": "t2"}, "y2": {"field": "v2"}}},
  {"data": {"values": [{"t": -275, "v": -91, "label": "125 pA"}, {"t": -5, "v": -250, "label": "500 ms"}]},
   "mark": {"type": "text", "fontSize": 10, "fontWeight": "bold", "baseline": "middle", "align": "center", "color": "black"},
   "encoding": {"text": {"field": "label"}}},
  {"data": {"values": [{"t": 145, "v": 6, "label": "-120 mV", "c": "mV"}, {"t": 975, "v": -136, "label": "Quin", "c": "Drug"}, {"t": 985, "v": -176, "label": "Wash", "c": "Wash"}, {"t": 985, "v": -211, "label": "Pre", "c": "Pre"}]},
   "mark": {"type": "text", "fontSize": 10, "fontWeight": "bold", "baseline": "middle", "align": "left"},
   "encoding": {"text": {"field": "label"}, "color": {"field": "c", "type": "nominal", "scale": {"domain": ["mV", "Pre", "Wash", "Drug"], "range": ["#000000", "#000000", "#9a9a9a", "#ff0000"]}, "legend": null}}},
  {"data": {"values": [{"t": 1660, "v": 88, "label": "F"}]},
   "mark": {"type": "text", "fontSize": 22, "fontWeight": "bold", "baseline": "alphabetic", "align": "center", "color": "black"},
   "encoding": {"text": {"field": "label"}}}
 ]
},
{
 "width": 131, "height": 115,
 "encoding": {
  "x": {"field": "cond", "type": "nominal", "scale": {"domain": ["Pre", "Quin", "Wash"], "paddingInner": 0.27, "paddingOuter": 0.1}, "axis": {"title": null}},
  "y": {"field": "y", "type": "quantitative", "scale": {"domain": [0, 300], "nice": false}, "axis": {"title": "Amplitude of Iₕ (pA)", "values": [0, 100, 200, 300]}}
 },
 "layer": [
  {"data": {"values": [
    {"id":1,"cond":"Pre","y":270},{"id":1,"cond":"Quin","y":165},{"id":1,"cond":"Wash","y":260},
    {"id":2,"cond":"Pre","y":225},{"id":2,"cond":"Quin","y":170},{"id":2,"cond":"Wash","y":230},
    {"id":3,"cond":"Pre","y":215},{"id":3,"cond":"Quin","y":160},{"id":3,"cond":"Wash","y":220},
    {"id":4,"cond":"Pre","y":210},{"id":4,"cond":"Quin","y":155},{"id":4,"cond":"Wash","y":215},
    {"id":5,"cond":"Pre","y":205},{"id":5,"cond":"Quin","y":150},{"id":5,"cond":"Wash","y":210},
    {"id":6,"cond":"Pre","y":195},{"id":6,"cond":"Quin","y":140},{"id":6,"cond":"Wash","y":200},
    {"id":7,"cond":"Pre","y":190},{"id":7,"cond":"Quin","y":125},{"id":7,"cond":"Wash","y":190},
    {"id":8,"cond":"Pre","y":180},{"id":8,"cond":"Quin","y":115},{"id":8,"cond":"Wash","y":185}]},
   "layer": [
    {"mark": {"type": "line", "color": "#c8c8c8", "strokeWidth": 1}, "encoding": {"detail": {"field": "id"}}},
    {"mark": {"type": "point", "shape": "circle", "filled": false, "color": "#b4b4b4", "size": 26, "strokeWidth": 1.5}}
   ]},
  {"data": {"values": [{"cond":"Pre","y":215},{"cond":"Quin","y":147},{"cond":"Wash","y":212}]},
   "mark": {"type": "bar", "filled": false, "color": "#ff0000", "strokeWidth": 2}},
  {"data": {"values": [{"cond":"Pre","y":206,"hi":223},{"cond":"Quin","y":140,"hi":155},{"cond":"Wash","y":205,"hi":220}]},
   "mark": {"type": "rule", "color": "#ff0000", "strokeWidth": 2},
   "encoding": {"y2": {"field": "hi"}}},
  {"data": {"values": [{"cond":"Pre","y":206},{"cond":"Pre","y":223},{"cond":"Quin","y":140},{"cond":"Quin","y":155},{"cond":"Wash","y":205},{"cond":"Wash","y":220}]},
   "mark": {"type": "tick", "color": "#ff0000", "thickness": 2, "size": 10}},
  {"data": {"values": [{"cond": "Quin", "y": 189}]},
   "mark": {"type": "text", "text": "**", "fontSize": 22, "fontWeight": "bold", "baseline": "alphabetic", "align": "center", "color": "black"}}
 ]
},
{
 "width": 360, "height": 117,
 "encoding": {
  "x": {"field": "t", "type": "quantitative", "scale": {"domain": [0, 2160], "nice": false, "zero": false}, "axis": null},
  "y": {"field": "v", "type": "quantitative", "scale": {"domain": [-87.6, 41.1], "nice": false, "zero": false}, "axis": null}
 },
 "layer": [
  {"data": {"values": [
    {"s":"p","t":234,"v":-69.7},{"s":"p","t":270,"v":-69.7},{"s":"p","t":276,"v":-52.4},{"s":"p","t":280,"v":35.9},{"s":"p","t":285,"v":-52.4},{"s":"p","t":294,"v":15.8},{"s":"p","t":301,"v":-52.4},{"s":"p","t":326,"v":-51.3},{"s":"p","t":334,"v":28.7},{"s":"p","t":343,"v":-55.7},{"s":"p","t":380,"v":-52.4},{"s":"p","t":388,"v":31.5},{"s":"p","t":397,"v":-55.7},{"s":"p","t":436,"v":-52.4},{"s":"p","t":444,"v":30.4},{"s":"p","t":453,"v":-55.7},{"s":"p","t":497,"v":-52.4},{"s":"p","t":506,"v":29.8},{"s":"p","t":515,"v":-55.7},{"s":"p","t":560,"v":-52.4},{"s":"p","t":568,"v":28.7},{"s":"p","t":577,"v":-55.7},{"s":"p","t":632,"v":-52.4},{"s":"p","t":640,"v":29.3},{"s":"p","t":649,"v":-55.7},{"s":"p","t":698,"v":-52.4},{"s":"p","t":706,"v":28.7},{"s":"p","t":715,"v":-54.6},{"s":"p","t":760,"v":-52.4},{"s":"p","t":768,"v":-61.2},{"s":"p","t":783,"v":-66.7},{"s":"p","t":804,"v":-72.2},{"s":"p","t":830,"v":-76.6},
    {"s":"s","t":886,"v":-69.2},{"s":"s","t":914,"v":-69.2},{"s":"s","t":927,"v":-46.9},{"s":"s","t":934,"v":33.1},{"s":"s","t":940,"v":-44.7},{"s":"s","t":958,"v":-37},{"s":"s","t":964,"v":13.3},{"s":"s","t":972,"v":-38.1},{"s":"s","t":988,"v":-35.9},{"s":"s","t":994,"v":13.3},{"s":"s","t":1002,"v":-38.1},{"s":"s","t":1020,"v":-34.8},{"s":"s","t":1054,"v":-33.7},{"s":"s","t":1060,"v":14.7},{"s":"s","t":1068,"v":-39.2},{"s":"s","t":1128,"v":-33.7},{"s":"s","t":1134,"v":17.7},{"s":"s","t":1142,"v":-40.3},{"s":"s","t":1170,"v":-38.1},{"s":"s","t":1230,"v":-34.8},{"s":"s","t":1278,"v":-33.7},{"s":"s","t":1310,"v":-32.6},{"s":"s","t":1316,"v":18.3},{"s":"s","t":1324,"v":-41.4},{"s":"s","t":1362,"v":-37},{"s":"s","t":1406,"v":-33.7},{"s":"s","t":1412,"v":14.7},{"s":"s","t":1419,"v":-38.1},{"s":"s","t":1425,"v":-44.7},{"s":"s","t":1437,"v":-53.5},{"s":"s","t":1452,"v":-61.2},{"s":"s","t":1476,"v":-68.6},
    {"s":"w","t":1524,"v":-70.3},{"s":"w","t":1556,"v":-70.3},{"s":"w","t":1569,"v":-44.7},{"s":"w","t":1574,"v":38.6},{"s":"w","t":1579,"v":-39.2},{"s":"w","t":1584,"v":4.8},{"s":"w","t":1590,"v":-44.7},{"s":"w","t":1600,"v":-42.5},{"s":"w","t":1606,"v":15.8},{"s":"w","t":1614,"v":-44.7},{"s":"w","t":1636,"v":-42.5},{"s":"w","t":1644,"v":23.2},{"s":"w","t":1652,"v":-45.8},{"s":"w","t":1684,"v":-42.5},{"s":"w","t":1692,"v":27.6},{"s":"w","t":1700,"v":-45.8},{"s":"w","t":1732,"v":-42.5},{"s":"w","t":1740,"v":27.6},{"s":"w","t":1748,"v":-45.8},{"s":"w","t":1792,"v":-42.5},{"s":"w","t":1800,"v":27.6},{"s":"w","t":1808,"v":-45.8},{"s":"w","t":1840,"v":-42.5},{"s":"w","t":1848,"v":26.8},{"s":"w","t":1856,"v":-45.8},{"s":"w","t":1906,"v":-42.5},{"s":"w","t":1914,"v":27.6},{"s":"w","t":1922,"v":-45.8},{"s":"w","t":1992,"v":-42.5},{"s":"w","t":2000,"v":29.3},{"s":"w","t":2008,"v":-44.7},{"s":"w","t":2050,"v":-43.6},{"s":"w","t":2058,"v":-50.2},{"s":"w","t":2073,"v":-59},{"s":"w","t":2094,"v":-67.8},{"s":"w","t":2116,"v":-73.3}]},
   "mark": {"type": "line", "color": "black", "strokeWidth": 1.1},
   "encoding": {"detail": {"field": "s"}, "order": {"value": null}}},
  {"data": {"values": [{"t": 176, "v": -48, "t2": 176, "v2": -73}, {"t": 176, "v": -73, "t2": 376, "v2": -73}]},
   "mark": {"type": "rule", "color": "black", "strokeWidth": 1.2},
   "encoding": {"x2": {"field": "t2"}, "y2": {"field": "v2"}}},
  {"data": {"values": [{"t": 165, "v": -41.4, "label": "25 mv"}, {"t": 264, "v": -80.5, "label": "200 ms"}]},
   "mark": {"type": "text", "fontSize": 10.5, "fontWeight": "bold", "baseline": "middle", "align": "center", "color": "black"},
   "encoding": {"text": {"field": "label"}}},
  {"data": {"values": [{"t": 78, "v": 32.3, "label": "G"}]},
   "mark": {"type": "text", "fontSize": 22, "fontWeight": "bold", "baseline": "alphabetic", "align": "center", "color": "black"},
   "encoding": {"text": {"field": "label"}}}
 ]
},
{
 "width": 209, "height": 117,
 "encoding": {
  "x": {"field": "t", "type": "quantitative", "scale": {"domain": [-22.02, 103.38], "nice": false, "zero": false}, "axis": null},
  "y": {"field": "v", "type": "quantitative", "scale": {"domain": [-97.5, 27.69], "nice": false, "zero": false}, "axis": null}
 },
 "layer": [
  {"data": {"values": [
    {"t":0,"v":-70},{"t":3.2,"v":-55.8},{"t":4.7,"v":-23.7},{"t":6,"v":23.4},{"t":7.1,"v":-23.7},{"t":9,"v":-62.1},{"t":11.6,"v":-59},{"t":14.3,"v":-55.8},{"t":16,"v":-33.8},{"t":17.6,"v":0.4},{"t":19.1,"v":-29},{"t":21.8,"v":-55.8},{"t":26,"v":-55.8},{"t":29.6,"v":-54.7},{"t":33,"v":-52.9}]},
   "mark": {"type": "line", "color": "#555555", "strokeWidth": 1.2, "interpolate": "monotone"}},
  {"data": {"values": [
    {"t":0,"v":-70},{"t":3.2,"v":-55.8},{"t":4.7,"v":-23.7},{"t":6,"v":24.5},{"t":7.1,"v":-23.7},{"t":9,"v":-62.9},{"t":11.6,"v":-60},{"t":15,"v":-57.6},{"t":16.4,"v":-39.7},{"t":18,"v":4.9},{"t":19.4,"v":-29},{"t":22,"v":-57.6},{"t":26,"v":-59},{"t":30.8,"v":-59},{"t":36,"v":-59.3}]},
   "mark": {"type": "line", "color": "black", "strokeWidth": 1.2, "interpolate": "monotone"}},
  {"data": {"values": [
    {"t":0,"v":-70},{"t":3.2,"v":-55.8},{"t":4.7,"v":-23.7},{"t":6,"v":22.3},{"t":7.1,"v":-23.7},{"t":9,"v":-63.2},{"t":10,"v":-64.6},{"t":14,"v":-62.6},{"t":20,"v":-60},{"t":26,"v":-56.7},{"t":28,"v":-55.7},{"t":29.6,"v":-42.8},{"t":31.6,"v":-9.3},{"t":33.2,"v":-23.7},{"t":34.4,"v":-34.4},{"t":36,"v":-45.1}]},
   "mark": {"type": "line", "color": "#ff0000", "strokeWidth": 1.2, "interpolate": "monotone"}},
  {"data": {"values": [{"t": -11.6, "v": -48.6, "t2": -11.6, "v2": -73.6}, {"t": -11.6, "v": -73.6, "t2": 13.4, "v2": -73.6}]},
   "mark": {"type": "rule", "color": "black", "strokeWidth": 1.2},
   "encoding": {"x2": {"field": "t2"}, "y2": {"field": "v2"}}},
  {"data": {"values": [{"t": -9.8, "v": -43.2, "label": "25 mv"}, {"t": -0.6, "v": -81.4, "label": "25 ms"}]},
   "mark": {"type": "text", "fontSize": 10, "fontWeight": "bold", "baseline": "middle", "align": "center", "color": "black"},
   "encoding": {"text": {"field": "label"}}},
  {"data": {"values": [{"t": 19, "v": 8.4, "label": "Pre", "c": "Pre"}, {"t": 35.6, "v": -3, "label": "Quin", "c": "Drug"}, {"t": 44, "v": -54, "label": "Wash", "c": "Wash"}]},
   "mark": {"type": "text", "fontSize": 10.5, "fontWeight": "bold", "baseline": "middle", "align": "center"},
   "encoding": {"text": {"field": "label"}, "color": {"field": "c", "type": "nominal", "scale": {"domain": ["Pre", "Wash", "Drug"], "range": ["#000000", "#9a9a9a", "#ff0000"]}, "legend": null}}},
  {"data": {"values": [{"t": 65, "v": 17.3, "label": "H"}]},
   "mark": {"type": "text", "fontSize": 22, "fontWeight": "bold", "baseline": "alphabetic", "align": "center", "color": "black"},
   "encoding": {"text": {"field": "label"}}}
 ]
},
{
 "width": 131, "height": 117,
 "encoding": {
  "x": {"field": "cond", "type": "nominal", "scale": {"domain": ["Pre", "Quin", "Wash"], "paddingInner": 0.27, "paddingOuter": 0.1}, "axis": {"title": null}},
  "y": {"field": "y", "type": "quantitative", "scale": {"domain": [0, 100], "nice": false}, "axis": {"title": "Onset frequency (Hz)", "values": [0, 20, 40, 60, 80, 100]}}
 },
 "layer": [
  {"data": {"values": [
    {"id":1,"cond":"Pre","y":83},{"id":1,"cond":"Quin","y":42},{"id":1,"cond":"Wash","y":83},
    {"id":2,"cond":"Pre","y":62},{"id":2,"cond":"Quin","y":40},{"id":2,"cond":"Wash","y":66},
    {"id":3,"cond":"Pre","y":60},{"id":3,"cond":"Quin","y":37},{"id":3,"cond":"Wash","y":64},
    {"id":4,"cond":"Pre","y":58},{"id":4,"cond":"Quin","y":35},{"id":4,"cond":"Wash","y":60},
    {"id":5,"cond":"Pre","y":55},{"id":5,"cond":"Quin","y":33},{"id":5,"cond":"Wash","y":55},
    {"id":6,"cond":"Pre","y":52},{"id":6,"cond":"Quin","y":32},{"id":6,"cond":"Wash","y":50},
    {"id":7,"cond":"Pre","y":48},{"id":7,"cond":"Quin","y":28},{"id":7,"cond":"Wash","y":45},
    {"id":8,"cond":"Pre","y":43},{"id":8,"cond":"Quin","y":26},{"id":8,"cond":"Wash","y":42}]},
   "layer": [
    {"mark": {"type": "line", "color": "#c8c8c8", "strokeWidth": 1}, "encoding": {"detail": {"field": "id"}}},
    {"mark": {"type": "point", "shape": "circle", "filled": false, "color": "#b4b4b4", "size": 26, "strokeWidth": 1.5}}
   ]},
  {"data": {"values": [{"cond":"Pre","y":56.5},{"cond":"Quin","y":34},{"cond":"Wash","y":56}]},
   "mark": {"type": "bar", "filled": false, "color": "#ff0000", "strokeWidth": 2}},
  {"data": {"values": [{"cond":"Pre","y":52,"hi":61},{"cond":"Quin","y":31.5,"hi":36.5},{"cond":"Wash","y":51,"hi":61}]},
   "mark": {"type": "rule", "color": "#ff0000", "strokeWidth": 2},
   "encoding": {"y2": {"field": "hi"}}},
  {"data": {"values": [{"cond":"Pre","y":52},{"cond":"Pre","y":61},{"cond":"Quin","y":31.5},{"cond":"Quin","y":36.5},{"cond":"Wash","y":51},{"cond":"Wash","y":61}]},
   "mark": {"type": "tick", "color": "#ff0000", "thickness": 2, "size": 10}},
  {"data": {"values": [{"cond": "Quin", "y": 52}]},
   "mark": {"type": "text", "text": "**", "fontSize": 22, "fontWeight": "bold", "baseline": "alphabetic", "align": "center", "color": "black"}}
 ]
}
]
}
